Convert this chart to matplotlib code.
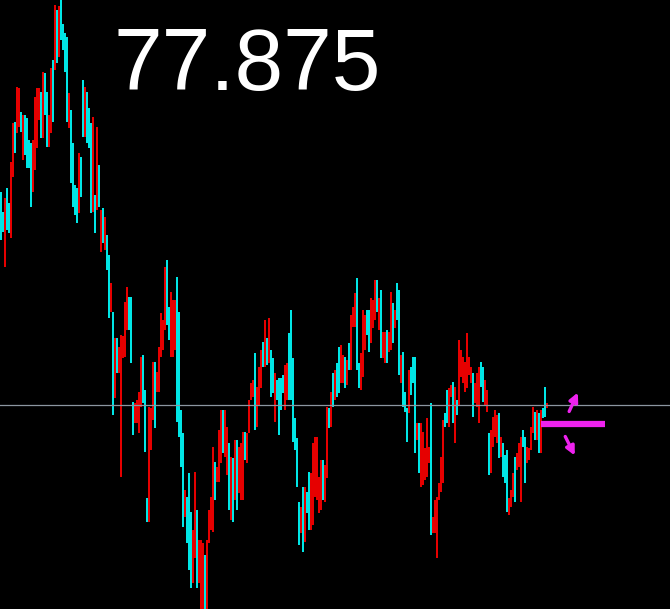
import numpy as np
import matplotlib
matplotlib.use("Agg")
import matplotlib.pyplot as plt

# bar highs / lows (price levels, 0 = bottom of chart) and bar direction
highs = [417, 397, 411, 421, 406, 447, 486, 487, 522, 521, 497, 494, 494, 491, 469, 466, 469, 512, 521, 521,
         517, 537, 536, 517, 494, 541, 549, 604, 599, 603, 609, 585, 576, 572, 516, 499, 466, 424, 421, 456,
         452, 529, 522, 517, 501, 486, 492, 414, 482, 444, 399, 401, 392, 374, 354, 326, 297, 271, 271, 262,
         274, 273, 307, 322, 312, 312, 207, 206, 209, 217, 252, 254, 219, 111, 202, 201, 247, 247, 237, 262,
         296, 289, 342, 349, 302, 317, 309, 309, 332, 297, 199, 176, 119, 112, 136, 97, 79, 137, 99, 69,
         69, 66, 54, 69, 99, 112, 162, 147, 142, 179, 199, 199, 199, 182, 166, 152, 151, 169, 169, 162,
         166, 177, 177, 176, 209, 226, 229, 256, 222, 242, 259, 267, 289, 271, 291, 259, 251, 236, 229, 231,
         231, 234, 244, 246, 276, 299, 251, 191, 171, 107, 102, 122, 122, 117, 137, 136, 166, 172, 172, 132,
         149, 149, 144, 202, 201, 217, 236, 239, 246, 262, 264, 254, 252, 249, 266, 294, 302, 316, 331, 246,
         256, 299, 294, 299, 299, 311, 309, 329, 329, 311, 319, 277, 277, 279, 277, 317, 306, 299, 326, 319,
         254, 257, 217, 201, 239, 242, 252, 252, 186, 186, 186, 177, 161, 191, 162, 206, 92, 109, 112, 126,
         152, 189, 196, 219, 221, 224, 227, 222, 209, 269, 259, 252, 247, 276, 252, 242, 236, 226, 236, 242,
         247, 242, 229, 219, 176, 179, 192, 199, 194, 196, 172, 166, 154, 159, 111, 119, 136, 152, 156, 166,
         172, 179, 172, 162, 161, 182, 202, 197, 199, 196, 199, 201, 222, 206]
lows = [369, 377, 342, 379, 376, 371, 432, 456, 476, 482, 477, 449, 454, 441, 441, 402, 417, 439, 461, 489,
        471, 471, 494, 462, 462, 476, 487, 539, 546, 552, 569, 559, 537, 487, 481, 426, 402, 394, 386, 396,
        412, 472, 472, 466, 461, 396, 397, 376, 399, 402, 357, 366, 359, 339, 291, 297, 194, 211, 236, 236,
        132, 251, 252, 279, 279, 246, 174, 186, 186, 176, 202, 206, 157, 87, 87, 159, 189, 181, 217, 217,
        252, 259, 279, 284, 269, 252, 252, 259, 187, 172, 142, 82, 92, 66, 39, 21, 26, 51, 21, 26,
        0, 0, 0, 0, 66, 79, 77, 109, 127, 127, 146, 156, 152, 134, 99, 89, 87, 109, 99, 116,
        109, 109, 149, 146, 176, 209, 212, 179, 182, 204, 221, 242, 242, 244, 246, 212, 216, 187, 209, 174,
        199, 216, 199, 209, 209, 209, 167, 159, 122, 64, 76, 57, 67, 96, 79, 79, 84, 112, 109, 96,
        99, 109, 107, 131, 181, 182, 202, 209, 212, 216, 226, 226, 221, 224, 239, 239, 282, 282, 239, 221,
        219, 232, 259, 274, 257, 266, 281, 289, 297, 279, 251, 251, 246, 246, 257, 259, 266, 281, 289, 234,
        226, 202, 197, 167, 196, 214, 226, 156, 169, 136, 122, 124, 129, 132, 146, 74, 76, 76, 51, 109,
        117, 126, 182, 186, 182, 212, 186, 166, 194, 204, 232, 226, 217, 221, 234, 226, 192, 206, 202, 186,
        222, 207, 204, 197, 134, 136, 162, 172, 166, 151, 152, 132, 126, 97, 94, 102, 112, 107, 139, 142,
        107, 162, 126, 146, 149, 159, 176, 169, 169, 156, 156, 191, 192, 201]
# r = down bar (red), c = up bar (cyan)
direction = ("ccrccrrcrr" "crccccrrrr" "crccrrcrcr" "ccccrccccr" "ccrcccrcrc"
             "rcrccrcrcr" "rrrrcccrrr" "rcccrrrcrr" "rrrccrrrcc" "ccrcccrrcr"
             "rrcrrrrcrr" "rcrrcrcrcr" "rrcrrrrcrr" "rcrcrccrcc" "ccrrcccccc"
             "rcrccrrrrr" "rcrrcrcrcc" "rrcrcrrrcc" "rrrccrrrcr" "crrcrrcrcc"
             "rcccrcccrc" "rrrrrcrrrr" "rrccrrcrcr" "rrrrrrcrrr" "ccrrcrrrrc"
             "rcccrrrcrr" "rccrrrrcrc" "rccr")

current_price = "77.875"
price_line = 204
target_level = 185

fig = plt.figure(figsize=(6.7, 6.09), dpi=100, facecolor="black")
ax = fig.add_axes([0, 0, 1, 1], facecolor="black")

x = np.arange(len(highs))
cols = ["#ff0000" if d == "r" else "#00ffff" for d in direction]
ax.vlines(x, lows, highs, colors=cols, linewidth=1.3, capstyle="butt")

ax.axhline(price_line, color="#8c96a0", linewidth=0.9)

# signal marker at the right edge
ax.hlines(target_level, 270, 302, color="#ee22ee", linewidth=4.5, capstyle="butt")
ax.annotate("", xy=(289, 219), xytext=(283.5, 195),
            arrowprops=dict(arrowstyle="-|>", color="#ee22ee", lw=2.4, mutation_scale=13))
ax.annotate("", xy=(287.5, 151), xytext=(281.5, 175),
            arrowprops=dict(arrowstyle="-|>", color="#ee22ee", lw=2.4, mutation_scale=13))

fig.text(113 / 670, 1 - 90 / 609, current_price, color="white", fontsize=63,
         family="Liberation Sans", ha="left", va="baseline")

ax.set_xlim(-0.5, 334.5)
ax.set_ylim(0, 609)
ax.axis("off")

fig.savefig("out.png", dpi=100, facecolor="black")
